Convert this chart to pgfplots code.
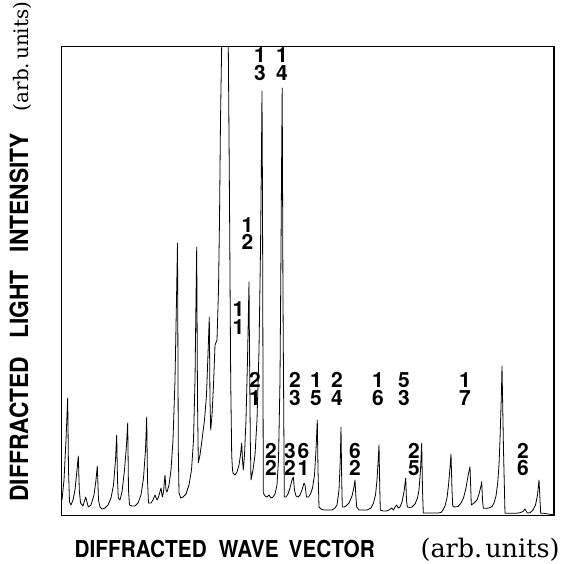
\documentclass[border=0pt]{standalone}
\usepackage{pgfplots}
\pgfplotsset{compat=1.18}
\usepackage{fontspec}
\setsansfont{TeX Gyre Heros}
\newfontfamily\labserif{DejaVu Serif}
\tikzset{fraclab/.style={font=\sffamily\bfseries\fontsize{21}{17.5}\selectfont, align=center, inner sep=0pt}}

\begin{document}
\begin{tikzpicture}
\path[use as bounding box] (0,0) rectangle (568pt,563pt);
\begin{axis}[
  at={(61.5pt,47.5pt)}, anchor=south west,
  scale only axis, width=492.5pt, height=469pt,
  xmin=61.5, xmax=554, ymin=46.5, ymax=515.5, y dir=reverse,
  xtick=\empty, ytick=\empty,
  axis line style={line width=1.3pt},
  xlabel={\hbox to 485pt{\scalebox{1}[1.12]{\sffamily\bfseries\fontsize{20.8}{24}\selectfont DIFFRACTED\hspace{12pt}WAVE\hspace{10pt}VECTOR}\hfill{\labserif\mdseries\fontsize{25.5}{28}\selectfont(arb.\hspace{3pt}units)}}},
  ylabel={\hbox to 500pt{\scalebox{1}[1.1]{\sffamily\bfseries\fontsize{22.8}{26}\selectfont DIFFRACTED\hspace{18pt}LIGHT\hspace{18pt}INTENSITY}\hfill{\labserif\mdseries\fontsize{20}{24}\selectfont(arb.\hspace{3pt}units)}}},
  every axis x label/.style={at={(axis description cs:0.0195,-0.0885)}, anchor=base west},
  every axis y label/.style={at={(axis description cs:-0.068,0.0224)}, anchor=base west, rotate=90},
]
\addplot[black, line width=0.8pt, line join=round] coordinates {
(62,500) (64,480) (66,440) (67.7,398) (68.5,470) (69.5,502) (71,505) (73,500) (75,490) (77,470) (78.3,456)
(79.3,490) (80.5,503) (83,506) (85.7,497) (88.3,507) (91,505) (94,495) (96,480) (97.3,466) (98.5,500)
(100,507) (102,509) (105,508) (108,505) (111,498) (113.5,485) (115.5,460) (116.7,435) (117.5,480) (118.3,498)
(120,500) (122,492) (124.5,470) (126.5,445) (127.7,423) (128.5,490) (129.5,505) (132,506) (135,506) (138,503)
(141,495) (143.5,478) (145.5,450) (146.7,417) (147.5,480) (148.5,503) (151,503) (153,500) (155,495) (157,500)
(158.5,497) (161,488) (162.3,497) (163.5,492) (165,475) (166,490) (167,492) (169,485) (171,470) (173,440)
(175,380) (176.5,300) (177.5,243) (178.3,450) (179,493) (180.7,498) (183,497) (186,494) (189,485) (191.5,470)
(193.5,440) (195,380) (196,300) (196.7,247) (197.5,400) (198.3,463) (200,455) (202,440) (204.5,420) (206.5,395)
(208.5,340) (209.3,317) (210,400) (210.7,430) (212,415) (213.5,385) (215,345) (217,340) (218.5,290) (219.5,220)
(220.5,120) (224.8,-150) (228.3,46.5) (229.5,200) (230.7,380) (231.7,455) (232.5,470) (233,473) (235,475)
(237,472) (239,465) (240.5,455) (241.7,443) (242.5,460) (243.3,470) (244.5,455) (246,420) (247.5,360) (249,282)
(249.5,350) (250.3,440) (251,480) (253,470) (255,455) (257,420) (259,350) (260.5,250) (261.5,150) (262,91)
(262.5,200) (263.3,493) (265,496) (267,497) (269,495) (271,498) (273,497) (275,494) (277,485) (278.5,460)
(280,380) (281,250) (281.7,150) (282.2,88) (283,300) (284.3,497) (286,497) (288,494) (290,488) (292,480)
(293.3,477) (294.5,490) (296,496) (298,497) (300,495) (302,490) (304,483) (305,485) (306.5,497) (308.5,497)
(310.5,494) (312.5,488) (314.5,475) (316,450) (317.3,420) (318,470) (319,507) (321,509) (324,510) (328,510)
(332,510) (335,508) (337,505) (339,490) (340.3,460) (341,427) (341.7,480) (342.3,507) (344,507) (346,506)
(349,503) (352,496) (353.8,488) (355,480) (355.8,495) (356.7,507) (359,510) (363,510) (367,510) (371,508)
(373.5,503) (375.5,495) (377,480) (378.2,460) (379,445) (379.8,490) (380.3,510) (383,511) (386,511) (389,510)
(391.7,508) (393.5,510) (395,507) (396.7,505) (398.3,508) (400,507) (402,502) (404,492) (405.7,478) (406.5,500)
(407.3,507) (410,507.5) (412,507) (415,504) (417.5,498) (419,490) (420.5,470) (421.7,443) (422.5,490) (423.3,513)
(426,513) (430,513) (434,513) (438,513) (441,512.5) (443,510) (445,506) (447,498) (448.5,485) (450,468)
(451,454) (452,490) (452.7,506) (455,507) (458,506.5) (461,503) (463.5,498) (466,488) (468,476) (470,466.7)
(470.8,490) (471.3,505) (474,503) (477,500) (479,494) (481,486) (481.7,481.7) (482.5,500) (483.3,508.3) (486,508.3)
(489,508) (492,506.5) (494,503) (496,496) (497.7,483) (499,465) (500,440) (500.7,416.7) (501.5,390) (502,366)
(503.5,450) (505,513.3) (508,513.3) (512,513.3) (516,513.3) (520,512.7) (523,511.5) (525,509) (527.3,513) (530,512.7)
(533,510) (535.5,505) (537.5,495) (539,480) (540,500) (540.7,513.3) (544,513.3) (548,514) (552,514.5) (554,514.5)
};
\node[fraclab] at (axis cs:260,64) {1\\3};
\node[fraclab] at (axis cs:282,64) {1\\4};
\node[fraclab] at (axis cs:247.5,233.5) {1\\2};
\node[fraclab] at (axis cs:238.5,318) {1\\1};
\node[fraclab] at (axis cs:255,389) {2\\1};
\node[fraclab] at (axis cs:295,389) {2\\3};
\node[fraclab] at (axis cs:316,389) {1\\5};
\node[fraclab] at (axis cs:337,389) {2\\4};
\node[fraclab] at (axis cs:378,389) {1\\6};
\node[fraclab] at (axis cs:404,389) {5\\3};
\node[fraclab] at (axis cs:465,389) {1\\7};
\node[fraclab] at (axis cs:271,459.5) {2\\2};
\node[fraclab] at (axis cs:290,459.5) {3\\2};
\node[fraclab] at (axis cs:303.5,459.5) {6\\1};
\node[fraclab] at (axis cs:355,459.5) {6\\2};
\node[fraclab] at (axis cs:414,459.5) {2\\5};
\node[fraclab] at (axis cs:523,459.5) {2\\6};
\end{axis}
\end{tikzpicture}
\end{document}
